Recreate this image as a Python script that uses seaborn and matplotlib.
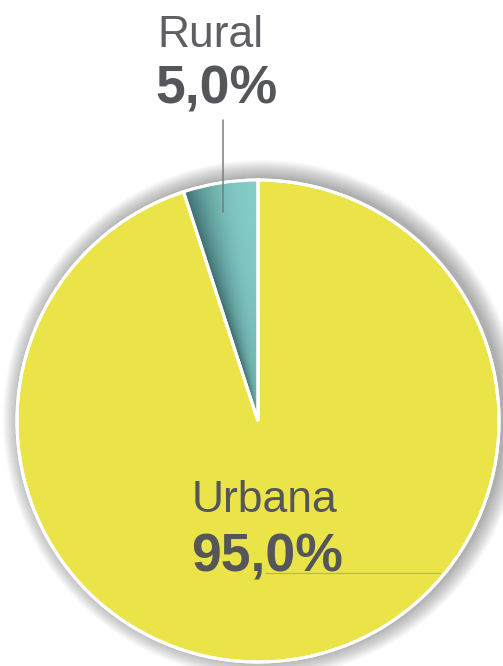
import numpy as np
import matplotlib
matplotlib.use("Agg")
import matplotlib.pyplot as plt
from matplotlib.patches import Circle
import seaborn as sns

# data
labels = ["Rural", "Urbana"]
shares = [5.0, 95.0]
pct_text = ["5,0%", "95,0%"]
colors = ["#80C8C1", "#EAE449"]

sns.set_theme(style="white")
plt.rcParams['font.family'] = ['Liberation Sans', 'DejaVu Sans']

W, H = 503, 666
fig = plt.figure(figsize=(W / 100, H / 100), dpi=100)
ax = fig.add_axes([0, 0, 1, 1])

cx, cy, r = 258, 245, 241

# soft shadow behind the pie
for k in range(18, 0, -1):
    ax.add_patch(Circle((cx + 4, cy + 2), r + k, facecolor="#303030",
                        edgecolor="none", alpha=0.025, zorder=0))

wedges, _ = ax.pie(shares, colors=colors, startangle=90, counterclock=True,
                   center=(cx, cy), radius=r,
                   wedgeprops=dict(edgecolor="white", linewidth=2.2))
for w in wedges:
    w.set_zorder(2)

# shading inside the rural wedge (dark on the left edge and near the centre)
rural = wedges[0]
gx = np.linspace(cx - 90, cx + 5, 200)
gy = np.linspace(cy - 5, cy + r + 5, 500)
X, Y = np.meshgrid(gx, gy)
ang = np.degrees(np.arctan2(Y - cy, X - cx))
t = np.clip((ang - 90) / (shares[0] / 100 * 360), 0, 1)
rad = np.clip(np.hypot(X - cx, Y - cy) / r, 0, 1)
dark = np.clip(t ** 2.5 * 0.85 + (1 - rad) ** 2 * 0.3, 0, 1)
light = np.array([0x84, 0xCC, 0xC6]) / 255
deep = np.array([0x2F, 0x5C, 0x5E]) / 255
img = light[None, None, :] * (1 - dark[..., None]) + deep[None, None, :] * dark[..., None]
im = ax.imshow(img, extent=(gx[0], gx[-1], gy[0], gy[-1]), origin="lower",
               zorder=3, interpolation="bilinear")
im.set_clip_path(rural)
# redraw white edge on top
ax.pie([shares[0], shares[1]], colors=["none", "none"], startangle=90,
       counterclock=True, center=(cx, cy), radius=r,
       wedgeprops=dict(edgecolor="white", linewidth=2.2, zorder=4))

ax.set_xlim(0, W)
ax.set_ylim(0, H)
ax.set_aspect("equal")
ax.axis("off")

txt = "#55565A"
# rural label with leader line
ax.text(157, H - 47, labels[0], fontsize=32, color="#5E5F62", va="baseline", ha="left")
ax.text(155, H - 104, pct_text[0], fontsize=38.5, fontweight="bold", color=txt,
        va="baseline", ha="left")
ax.plot([223, 223], [H - 120, H - 212], color="#7A7E80", lw=1.1, zorder=5)

# urban label
ax.text(192, H - 512, labels[1], fontsize=32, color=txt, va="baseline", ha="left")
ax.text(191, H - 572, pct_text[1], fontsize=38.5, fontweight="bold", color=txt,
        va="baseline", ha="left")
ax.plot([265, 440], [H - 573, H - 573], color="#BDB845", lw=0.9, zorder=5)

fig.savefig("out.png", dpi=100)
